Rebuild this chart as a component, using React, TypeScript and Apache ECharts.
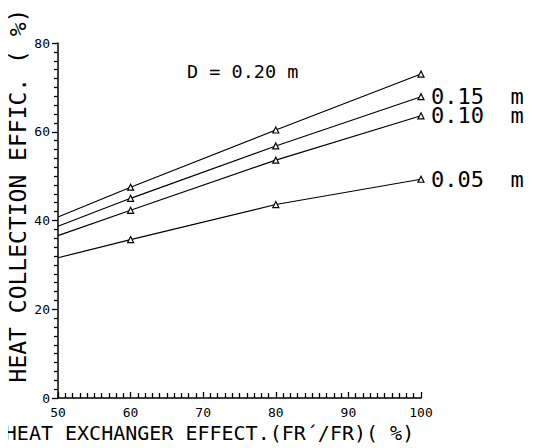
import React, { useEffect, useRef } from "react";
import * as echarts from "echarts";

const xValues = [50, 60, 80, 100];
const d020 = [40.8, 47.5, 60.4, 73.0];
const d015 = [38.7, 45.0, 56.8, 67.9];
const d010 = [36.6, 42.3, 53.6, 63.6];
const d005 = [31.6, 35.7, 43.6, 49.3];
const seriesNames = ["D = 0.20 m", "0.15 m", "0.10 m", "0.05 m"];
const endLabels = ["", "0.15  m", "0.10  m", "0.05  m"];
const xTitle = "HEAT EXCHANGER EFFECT.(FR´/FR)( %)";
const yTitle = "HEAT COLLECTION EFFIC. ( %)";

const FONT = "DejaVu Sans Mono";

export default function App() {
  const ref = useRef<HTMLDivElement>(null);
  useEffect(() => {
    if (!ref.current) return;
    const chart = echarts.init(ref.current, undefined, { renderer: "svg" });
    const all = [d020, d015, d010, d005];
    const series = all.map((ys, si) => ({
      name: seriesNames[si],
      type: "line",
      data: xValues.map((x, i) => ({
        value: [x, ys[i]],
        symbol: i === 0 ? "none" : "triangle",
      })),
      symbolSize: 6,
      showAllSymbol: true,
      lineStyle: { color: "#000", width: 1.2 },
      itemStyle: { color: "#fff", borderColor: "#000", borderWidth: 1.2 },
      endLabel: endLabels[si]
        ? {
            show: true,
            formatter: endLabels[si],
            distance: 10,
            color: "#000",
            fontFamily: FONT,
            fontSize: 22,
            lineHeight: 20,
          }
        : { show: false },
      z: 3,
    }));
    chart.setOption({
      animation: false,
      backgroundColor: "#fff",
      grid: { left: 50, right: 117, top: 35, bottom: 50, outerBoundsMode: "none", containLabel: false },
      xAxis: {
        type: "value",
        min: 50,
        max: 100,
        interval: 10,
        name: xTitle,
        nameLocation: "middle",
        nameGap: 25,
        nameMoveOverlap: false,
        nameTextStyle: {
          fontFamily: FONT,
          fontSize: 20,
          color: "#000",
          padding: [0, 60, 0, 0],
        },
        axisLine: { show: true, onZero: false, lineStyle: { color: "#000", width: 1.5 } },
        axisTick: { show: true, inside: true, length: 6, lineStyle: { color: "#000", width: 1.3 } },
        minorTick: { show: true, splitNumber: 10, length: 5, lineStyle: { color: "#000", width: 1.3 } },
        axisLabel: { show: true, color: "#000", fontFamily: FONT, fontSize: 13, margin: 8 },
        splitLine: { show: false },
      },
      yAxis: {
        type: "value",
        min: 0,
        max: 80,
        interval: 20,
        name: yTitle,
        nameLocation: "middle",
        nameGap: 29,
        nameMoveOverlap: false,
        nameTextStyle: {
          fontFamily: FONT,
          fontSize: 23,
          color: "#000",
          padding: [0, 0, 0, 50],
        },
        axisLine: { show: true, onZero: false, lineStyle: { color: "#000", width: 1.5 } },
        axisTick: { show: true, inside: false, length: 6, lineStyle: { color: "#000", width: 1.3 } },
        minorTick: { show: true, splitNumber: 10, length: 4, lineStyle: { color: "#000", width: 1.3 } },
        axisLabel: { show: true, color: "#000", fontFamily: FONT, fontSize: 13, margin: 8 },
        splitLine: { show: false },
      },
      graphic: [
        {
          type: "text",
          left: 179,
          top: 54,
          style: {
            text: "D = 0.20 m",
            fontFamily: FONT,
            fontSize: 18.5,
            fill: "#000",
          },
        },
      ],
      series,
    });
    return () => chart.dispose();
  }, []);
  return <div ref={ref} style={{ width: 530, height: 440 }} />;
}
